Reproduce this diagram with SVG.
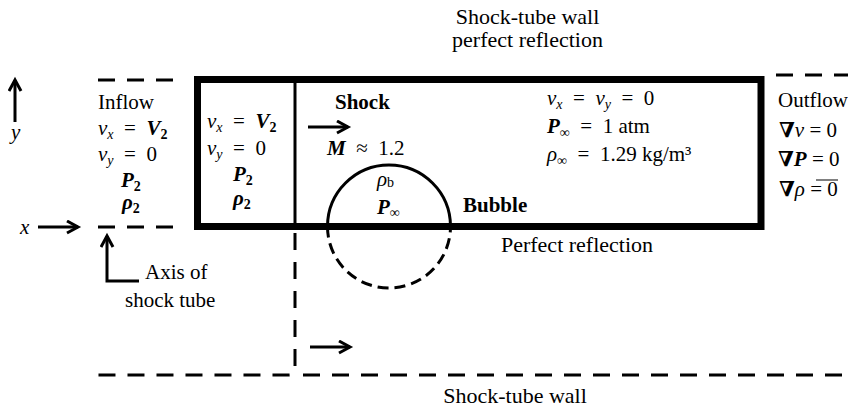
<svg xmlns="http://www.w3.org/2000/svg" width="848" height="411" viewBox="0 0 848 411">
<style>
  text { font-family: "Liberation Serif", "DejaVu Serif", serif; font-size: 21px; fill: #000; }
  .cap { font-size: 22px; }
  .i { font-style: italic; }
  .b { font-weight: bold; }
  .bi { font-style: italic; font-weight: bold; }
  .sub { font-size: 14px; }
  .wall { fill: none; stroke: #000; stroke-width: 7; }
  .thin { fill: none; stroke: #000; stroke-width: 3; }
  .dash { fill: none; stroke: #000; stroke-width: 3; stroke-dasharray: 17 12; }
  .bdash { fill: none; stroke: #000; stroke-width: 3; stroke-dasharray: 11 6; }
  .arr { fill: none; stroke: #000; stroke-width: 3; marker-end: url(#ah); }
</style>
<defs>
  <marker id="ah" markerUnits="userSpaceOnUse" markerWidth="16" markerHeight="16" refX="12" refY="7" orient="auto">
    <path d="M1,1 L12,7 L1,13" fill="none" stroke="#000" stroke-width="3"/>
  </marker>
</defs>
<rect width="848" height="411" fill="#fff"/>

<g id="connectors">
  <line class="dash" x1="98" y1="80" x2="176" y2="80"/>
  <line class="dash" x1="98" y1="227" x2="176" y2="227"/>
  <line class="dash" x1="776" y1="75" x2="848" y2="75"/>
  <path class="dash" d="M295,233 V369 Q295,375 289,375 H98"/>
  <line class="dash" x1="303" y1="375" x2="848" y2="375"/>
  <line class="arr" x1="15" y1="122" x2="15" y2="80"/>
  <line class="arr" x1="38" y1="227" x2="78" y2="227"/>
  <line class="arr" x1="308" y1="127" x2="348" y2="127"/>
  <line class="arr" x1="310" y1="347" x2="350" y2="347"/>
  <path class="arr" d="M139,281 H107 V236"/>
</g>

<g id="tube">
  <rect class="wall" x="197.5" y="79.5" width="563.5" height="147"/>
  <line class="thin" x1="295" y1="79.5" x2="295" y2="226.5"/>
</g>

<g id="bubble">
  <path class="thin" d="M327.5,226.5 A61.5,61.5 0 0 1 450.5,226.5"/>
  <path class="bdash" d="M327.5,226.5 A61.5,61.5 0 0 0 450.5,226.5"/>
  <text x="377" y="186" class="i">ρ<tspan class="sub" dy="1" font-style="normal">b</tspan></text>
  <text x="377" y="214"><tspan class="bi">P</tspan><tspan class="sub" dy="3">∞</tspan></text>
  <text x="463" y="212" class="b">Bubble</text>
</g>

<g id="top-caption">
  <text class="cap" x="527.5" y="24" text-anchor="middle">Shock-tube wall</text>
  <text class="cap" x="527.5" y="47" text-anchor="middle">perfect reflection</text>
</g>

<g id="bottom-caption">
  <text class="cap" x="515" y="403" text-anchor="middle">Shock-tube wall</text>
</g>

<g id="reflection-label">
  <text class="cap" x="577" y="252" text-anchor="middle">Perfect reflection</text>
</g>

<g id="axes">
  <text x="11" y="139" class="i">y</text>
  <text x="20" y="234" class="i">x</text>
  <text x="145" y="279">Axis of</text>
  <text x="125" y="307">shock tube</text>
</g>

<g id="inflow">
  <text x="98" y="109">Inflow</text>
  <text x="98" y="135"><tspan class="i">v</tspan><tspan class="sub i" dy="4">x</tspan><tspan dy="-4">&#8194;=&#8194;</tspan><tspan class="bi">V</tspan><tspan class="sub b" dy="4">2</tspan></text>
  <text x="98" y="161"><tspan class="i">v</tspan><tspan class="sub i" dy="4">y</tspan><tspan dy="-4">&#8194;=&#8194;0</tspan></text>
  <text x="121" y="187"><tspan class="bi">P</tspan><tspan class="sub b" dy="4">2</tspan></text>
  <text x="122" y="209"><tspan class="bi">ρ</tspan><tspan class="sub b" dy="4">2</tspan></text>
</g>

<g id="post-shock">
  <text x="207" y="128"><tspan class="i">v</tspan><tspan class="sub i" dy="4">x</tspan><tspan dy="-4">&#8194;=&#8194;</tspan><tspan class="bi">V</tspan><tspan class="sub b" dy="4">2</tspan></text>
  <text x="207" y="155"><tspan class="i">v</tspan><tspan class="sub i" dy="4">y</tspan><tspan dy="-4">&#8194;=&#8194;0</tspan></text>
  <text x="233" y="181"><tspan class="bi">P</tspan><tspan class="sub b" dy="4">2</tspan></text>
  <text x="233" y="205"><tspan class="bi">ρ</tspan><tspan class="sub b" dy="4">2</tspan></text>
</g>

<g id="shock">
  <text x="335" y="109" class="b">Shock</text>
  <text x="327" y="155"><tspan class="bi">M</tspan>&#8194;≈&#8194;1.2</text>
</g>

<g id="ambient">
  <text x="547" y="105"><tspan class="i">v</tspan><tspan class="sub i" dy="4">x</tspan><tspan dy="-4">&#8194;=&#8194;</tspan><tspan class="i">v</tspan><tspan class="sub i" dy="4">y</tspan><tspan dy="-4">&#8194;=&#8194;0</tspan></text>
  <text x="547" y="133"><tspan class="bi">P</tspan><tspan class="sub" dy="4">∞</tspan><tspan dy="-4">&#8194;=&#8194;1 atm</tspan></text>
  <text x="547" y="161"><tspan class="i">ρ</tspan><tspan class="sub" dy="4">∞</tspan><tspan dy="-4">&#8194;=&#8194;1.29 kg/m³</tspan></text>
</g>

<g id="outflow">
  <text x="778" y="107">Outflow</text>
  <text x="779" y="137"><tspan class="b">∇</tspan><tspan class="i">v</tspan> = 0</text>
  <text x="778" y="166"><tspan class="b">∇</tspan><tspan class="bi">P</tspan> = 0</text>
  <line x1="816" y1="180" x2="838" y2="180" stroke="#000" stroke-width="1"/>
  <text x="779" y="196"><tspan class="b">∇</tspan><tspan class="i">ρ</tspan> = 0</text>
</g>
</svg>
